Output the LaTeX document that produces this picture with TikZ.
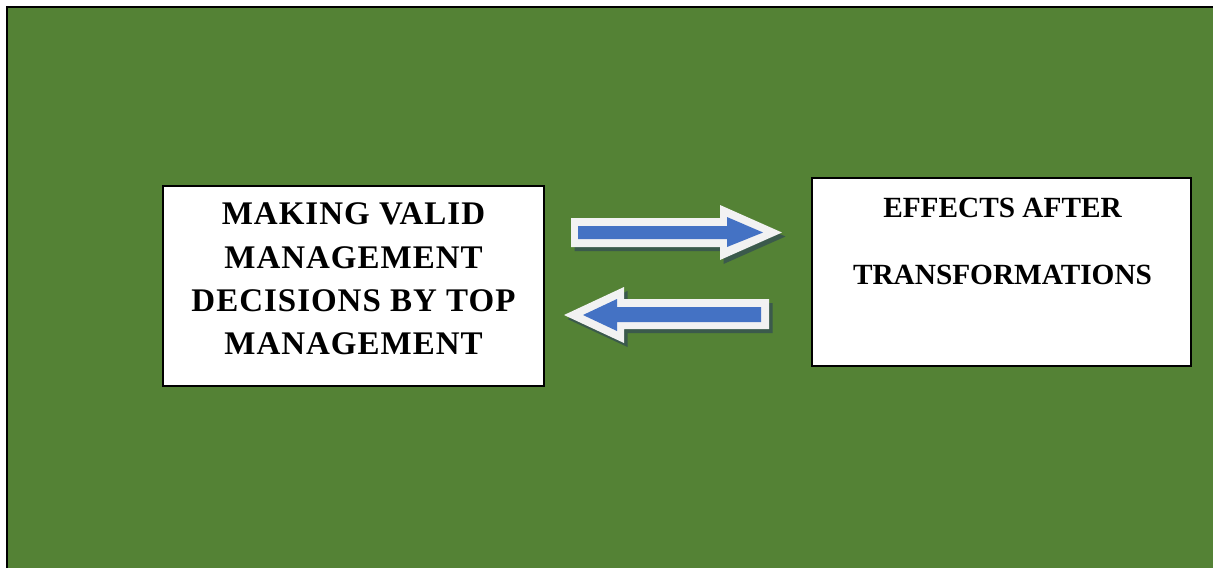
\documentclass[tikz,border=0pt]{standalone}
\usepackage{fontspec}
\setmainfont{Liberation Serif}
\definecolor{bggreen}{HTML}{548235}
\definecolor{arrowblue}{HTML}{4472C4}
\definecolor{arrowwhite}{HTML}{F2F2F2}
\definecolor{shadowc}{HTML}{3B5A4C}
\tikzset{
  box/.style={draw=black, line width=1.8pt, fill=white, rectangle, inner sep=0pt},
  boxtext/.style={align=center, inner sep=0pt, font=\bfseries},
}
\begin{document}
\begin{tikzpicture}[x=1pt,y=-1pt]
\useasboundingbox (0,0) rectangle (1213,568);
\fill[white] (0,0) rectangle (1213,568);
\fill[bggreen] (7,7) rectangle (1213,568);
\draw[black, line width=2.6pt] (7,568) -- (7,7) -- (1213,7);

% boxes
\node[box, minimum width=381pt, minimum height=200pt] (left) at (353.5,286) {};
\node[box, minimum width=379pt, minimum height=188pt] (right) at (1001.5,272) {};

\node[boxtext, font=\bfseries\fontsize{33}{43.2}\selectfont\addfontfeature{LetterSpace=3}] (lefttext) at (353.5,279)
  {MAKING VALID\\MANAGEMENT\\DECISIONS BY TOP\\MANAGEMENT};
\node[boxtext, font=\bfseries\fontsize{29.3}{67}\selectfont] (righttext) at (1002.5,241)
  {EFFECTS AFTER\\TRANSFORMATIONS};

% right arrow
\begin{scope}[shift={(3.5,4)}]
\fill[shadowc] (571,218) -- (720,218) -- (720,205) -- (782,232.5) -- (720,260) -- (720,247) -- (571,247) -- cycle;
\end{scope}
\fill[arrowwhite] (571,218) -- (720,218) -- (720,205) -- (782,232.5) -- (720,260) -- (720,247) -- (571,247) -- cycle;
\fill[arrowblue] (578,226) -- (727,226) -- (727,217) -- (763,232.5) -- (727,247) -- (727,239) -- (578,239) -- cycle;

% left arrow
\begin{scope}[shift={(3.5,4)}]
\fill[shadowc] (769,299) -- (624,299) -- (624,287) -- (564,315) -- (624,343) -- (624,329) -- (769,329) -- cycle;
\end{scope}
\fill[arrowwhite] (769,299) -- (624,299) -- (624,287) -- (564,315) -- (624,343) -- (624,329) -- (769,329) -- cycle;
\fill[arrowblue] (761,307) -- (617,307) -- (617,299) -- (583,315) -- (617,331) -- (617,322) -- (761,322) -- cycle;
\end{tikzpicture}
\end{document}
